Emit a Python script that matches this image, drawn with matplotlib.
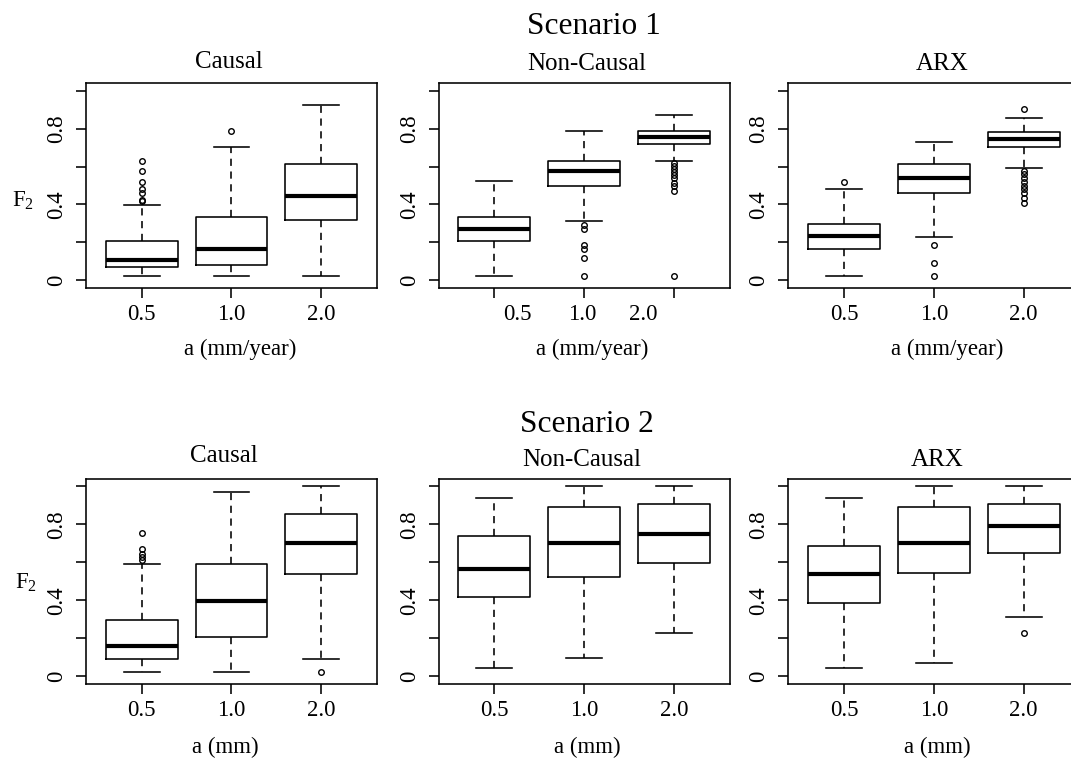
import matplotlib.pyplot as plt

plt.rcParams['font.family'] = 'Liberation Serif'
plt.rcParams['mathtext.fontset'] = 'custom'
plt.rcParams['mathtext.rm'] = 'Liberation Serif'
plt.rcParams['mathtext.it'] = 'Liberation Serif:italic'

RATES = ['0.5', '1.0', '2.0']

# box summaries per rate: lower whisker, Q1, median, Q3, upper whisker
S1_CAUSAL = [[0.023, 0.070, 0.105, 0.209, 0.398],
             [0.023, 0.079, 0.165, 0.335, 0.704],
             [0.023, 0.316, 0.444, 0.611, 0.923]]
S1_CAUSAL_OUT = [[0.630, 0.574, 0.518, 0.479, 0.461, 0.426, 0.419],
                 [0.789],
                 []]

S1_NONCAUSAL = [[0.023, 0.209, 0.272, 0.335, 0.523],
                [0.314, 0.498, 0.575, 0.630, 0.789],
                [0.630, 0.721, 0.756, 0.788, 0.874]]
S1_NONCAUSAL_OUT = [[],
                    [0.291, 0.270, 0.186, 0.167, 0.119, 0.023],
                    [0.616, 0.602, 0.586, 0.572, 0.554, 0.537, 0.511, 0.496, 0.472, 0.023]]

S1_ARX = [[0.023, 0.163, 0.233, 0.298, 0.479],
          [0.228, 0.460, 0.537, 0.612, 0.730],
          [0.593, 0.704, 0.744, 0.782, 0.856]]
S1_ARX_OUT = [[0.518],
              [0.184, 0.093, 0.023],
              [0.905, 0.577, 0.560, 0.542, 0.519, 0.500, 0.481, 0.461, 0.432, 0.409]]

S2_CAUSAL = [[0.021, 0.093, 0.161, 0.295, 0.593],
             [0.021, 0.207, 0.398, 0.593, 0.968],
             [0.093, 0.537, 0.702, 0.856, 1.000]]
S2_CAUSAL_OUT = [[0.754, 0.668, 0.646, 0.628, 0.611],
                 [],
                 [0.021]]

S2_NONCAUSAL = [[0.046, 0.418, 0.565, 0.739, 0.937],
                [0.095, 0.523, 0.702, 0.889, 1.000],
                [0.228, 0.595, 0.747, 0.905, 1.000]]
S2_NONCAUSAL_OUT = [[], [], []]

S2_ARX = [[0.046, 0.388, 0.537, 0.686, 0.937],
          [0.070, 0.544, 0.702, 0.889, 1.000],
          [0.314, 0.647, 0.789, 0.905, 1.000]]
S2_ARX_OUT = [[], [], [0.228]]

W, H = 1071, 759
fig = plt.figure(figsize=(W / 100, H / 100), dpi=100)


def rect(left, top, w, h):
    return [left / W, 1 - (top + h) / H, w / W, h / H]


def label(x, y, s, size, **kw):
    fig.text(x / W, 1 - y / H, s, fontsize=size, ha='center', va='baseline', **kw)


def draw_panel(ax, stats, fliers, shifted_labels=False):
    boxes = []
    for (lo, q1, med, q3, hi), out in zip(stats, fliers):
        boxes.append(dict(whislo=lo, q1=q1, med=med, q3=q3, whishi=hi, fliers=out))
    ax.bxp(boxes, positions=[1, 2, 3], widths=0.8, capwidths=0.4,
           manage_ticks=False, showfliers=True,
           boxprops=dict(color='black', lw=1.15),
           whiskerprops=dict(color='black', lw=1.15, linestyle=(0, (4.5, 3.5))),
           capprops=dict(color='black', lw=1.15),
           medianprops=dict(color='black', lw=3.0, solid_capstyle='butt'),
           flierprops=dict(marker='o', markersize=4.0, markerfacecolor='none',
                           markeredgecolor='black', markeredgewidth=1.0))
    ax.set_xlim(0.38, 3.62)
    ax.set_ylim(-0.04, 1.04)
    ax.set_yticks([0, 0.2, 0.4, 0.6, 0.8, 1.0], ['0', '', '0.4', '', '0.8', ''])
    for lab in ax.get_yticklabels():
        lab.set_rotation(90)
        lab.set_va('center')
    ax.tick_params(axis='both', direction='out', length=7.2, width=1.15,
                   labelsize=16.5, color='black')
    ax.tick_params(axis='y', pad=6.5)
    ax.tick_params(axis='x', pad=4.5)
    if shifted_labels:
        ax.set_xticks([1, 2, 3], ['', '', ''])
        ax.set_xticks([1.26, 1.98, 2.66], RATES, minor=True)
        ax.tick_params(axis='x', which='minor', length=0, pad=11.7, labelsize=16.5)
    else:
        ax.set_xticks([1, 2, 3], RATES)
    for sp in ax.spines.values():
        sp.set_linewidth(1.15)


cols = [86, 438.7, 788.3]
rows = [(83, 205), (478.7, 205.3)]

panels = [
    (S1_CAUSAL, S1_CAUSAL_OUT), (S1_NONCAUSAL, S1_NONCAUSAL_OUT), (S1_ARX, S1_ARX_OUT),
    (S2_CAUSAL, S2_CAUSAL_OUT), (S2_NONCAUSAL, S2_NONCAUSAL_OUT), (S2_ARX, S2_ARX_OUT),
]

for i, (stats, out) in enumerate(panels):
    top, h = rows[i // 3]
    ax = fig.add_axes(rect(cols[i % 3], top, 291, h))
    draw_panel(ax, stats, out, shifted_labels=(i == 1))

# panel titles
for x, y, s in [(229, 68.3, 'Causal'), (587, 70, 'Non-Causal'), (941.7, 70, 'ARX'),
                (224, 462.3, 'Causal'), (581.7, 466, 'Non-Causal'), (936.7, 466, 'ARX')]:
    label(x, y, s, 18)

# scenario headings
label(593.5, 34.3, 'Scenario 1', 22.6)
label(587, 432.3, 'Scenario 2', 22.6)

# x axis labels
for x in (240, 591.7, 946.7):
    label(x, 355, 'a (mm/year)', 16.5)
for x in (225.5, 587.5, 937):
    label(x, 753, 'a (mm)', 16.5)

# y axis labels on the left column
fig.text(11.7 / W, 1 - 207 / H, r'$\mathrm{F}_2$', fontsize=16.5, ha='left', va='baseline')
fig.text(15 / W, 1 - 588.3 / H, r'$\mathrm{F}_2$', fontsize=16.5, ha='left', va='baseline')

fig.savefig('out.png', dpi=100)
